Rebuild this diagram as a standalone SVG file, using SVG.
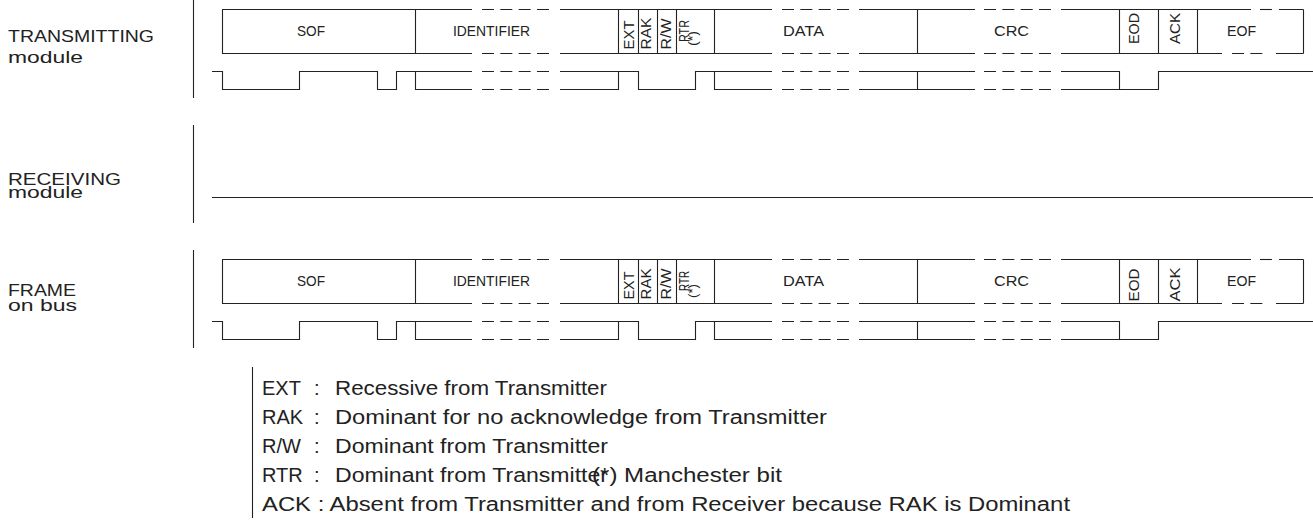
<svg xmlns="http://www.w3.org/2000/svg" width="1313" height="523" viewBox="0 0 1313 523">
<style>
.ln{stroke:#222;stroke-width:1.1;fill:none}
.ds{stroke:#222;stroke-width:1.1;fill:none;stroke-dasharray:12 6.33}
.t{font-family:"Liberation Sans",Arial,sans-serif;fill:#222}
.side{font-size:17px}
.sub{font-size:16px}
.cell{font-size:15px}
.rot{font-size:15px}
.rs{font-size:14px}
.rx{font-size:13px}
.leg{font-size:20px}
</style>
<defs>
<g id="frame">
<path class="ln" d="M222,9.5H472M560,9.5H772M859,9.5H975M1061,9.5H1251M1279,9.5H1303.5"/>
<path class="ds" d="M482,9.5H549M782,9.5H850M984,9.5H1053"/>
<path class="ds" d="M1260,9.5H1272"/>
<path class="ln" d="M222,53.5H472M560,53.5H772M859,53.5H975M1061,53.5H1222M1276,53.5H1303.5"/>
<path class="ds" d="M482,53.5H549M782,53.5H850M984,53.5H1053M1232,53.5H1267"/>
<path class="ln" d="M222.5,9.5V53.5M415.5,9.5V53.5M618.5,9.5V53.5M638.5,9.5V53.5M657.5,9.5V53.5M676.5,9.5V53.5M714.5,9.5V53.5M917.5,9.5V53.5M1119.5,9.5V53.5M1158.5,9.5V53.5M1197.5,9.5V53.5M1303.5,9.5V53.5"/>
<path class="ln" d="M212,71.5H222.5V89.5H299.5V71.5H377.5V89.5H396.5V71.5H472M415.5,71.5V89.5H472"/>
<path class="ds" d="M482,71.5H549M482,89.5H549M782,71.5H850M782,89.5H850M984,71.5H1053M984,89.5H1053"/>
<path class="ln" d="M560,71.5H638.5V89.5H695.5V71.5H772M560,89.5H618.5V71.5M714.5,71.5V89.5H772"/>
<path class="ln" d="M859,71.5H975M859,89.5H975M917.5,71.5V89.5"/>
<path class="ln" d="M1061,71.5H1119.5V89.5M1061,89.5H1158.5V71.5H1313"/>
</g>
</defs>

<g id="separators">
<path class="ln" d="M193.5,0V98M193.5,125V223M193.5,250V348"/>
</g>

<g id="transmitting-label">
<text class="t side" x="8" y="42" textLength="146" lengthAdjust="spacingAndGlyphs">TRANSMITTING</text>
<text class="t side" x="8" y="63" textLength="75" lengthAdjust="spacingAndGlyphs">module</text>
</g>
<g id="receiving-label">
<text class="t side" x="8" y="184.5" textLength="113" lengthAdjust="spacingAndGlyphs">RECEIVING</text>
<text class="t sub" x="8" y="198" textLength="75" lengthAdjust="spacingAndGlyphs">module</text>
</g>
<g id="frame-label">
<text class="t side" x="8" y="296" textLength="68" lengthAdjust="spacingAndGlyphs">FRAME</text>
<text class="t sub" x="8" y="310.5" textLength="69" lengthAdjust="spacingAndGlyphs">on bus</text>
</g>

<g id="transmitting-frame">
<use href="#frame"/>
<text class="t cell" x="297" y="35.5" textLength="28" lengthAdjust="spacingAndGlyphs">SOF</text>
<text class="t cell" x="453" y="35.5" textLength="77" lengthAdjust="spacingAndGlyphs">IDENTIFIER</text>
<text class="t cell" x="783" y="35.5" textLength="41" lengthAdjust="spacingAndGlyphs">DATA</text>
<text class="t cell" x="994" y="35.5" textLength="35" lengthAdjust="spacingAndGlyphs">CRC</text>
<text class="t cell" x="1227" y="35.5" textLength="29" lengthAdjust="spacingAndGlyphs">EOF</text>
<text class="t rot" transform="translate(633.5,49.5) rotate(-90)" textLength="29" lengthAdjust="spacingAndGlyphs">EXT</text>
<text class="t rot" transform="translate(651,49.5) rotate(-90)" textLength="32" lengthAdjust="spacingAndGlyphs">RAK</text>
<text class="t rot" transform="translate(670.5,49.5) rotate(-90)" textLength="31" lengthAdjust="spacingAndGlyphs">R/W</text>
<text class="t rs" transform="translate(689,42) rotate(-90)" textLength="22" lengthAdjust="spacingAndGlyphs">RTR</text>
<text class="t rx" transform="translate(697,46) rotate(-90)" textLength="15" lengthAdjust="spacingAndGlyphs">(*)</text>
<text class="t rot" transform="translate(1138.5,44) rotate(-90)" textLength="31" lengthAdjust="spacingAndGlyphs">EOD</text>
<text class="t rot" transform="translate(1180,44) rotate(-90)" textLength="31" lengthAdjust="spacingAndGlyphs">ACK</text>
</g>

<g id="receiving-line">
<path class="ln" d="M212,197.5H1313"/>
</g>

<g id="bus-frame">
<use href="#frame" transform="translate(0,250)"/>
<text class="t cell" x="297" y="285.5" textLength="28" lengthAdjust="spacingAndGlyphs">SOF</text>
<text class="t cell" x="453" y="285.5" textLength="77" lengthAdjust="spacingAndGlyphs">IDENTIFIER</text>
<text class="t cell" x="783" y="285.5" textLength="41" lengthAdjust="spacingAndGlyphs">DATA</text>
<text class="t cell" x="994" y="285.5" textLength="35" lengthAdjust="spacingAndGlyphs">CRC</text>
<text class="t cell" x="1227" y="285.5" textLength="29" lengthAdjust="spacingAndGlyphs">EOF</text>
<text class="t rot" transform="translate(633.5,299.5) rotate(-90)" textLength="28" lengthAdjust="spacingAndGlyphs">EXT</text>
<text class="t rot" transform="translate(651,299.5) rotate(-90)" textLength="31" lengthAdjust="spacingAndGlyphs">RAK</text>
<text class="t rot" transform="translate(670.5,299.5) rotate(-90)" textLength="31" lengthAdjust="spacingAndGlyphs">R/W</text>
<text class="t rs" transform="translate(689,291) rotate(-90)" textLength="20" lengthAdjust="spacingAndGlyphs">RTR</text>
<text class="t rx" transform="translate(697,298) rotate(-90)" textLength="14" lengthAdjust="spacingAndGlyphs">(*)</text>
<text class="t rot" transform="translate(1139,301.5) rotate(-90)" textLength="33" lengthAdjust="spacingAndGlyphs">EOD</text>
<text class="t rot" transform="translate(1180,301.5) rotate(-90)" textLength="34" lengthAdjust="spacingAndGlyphs">ACK</text>
</g>

<g id="legend">
<path class="ln" d="M252.5,367V518"/>
<text class="t leg" x="262" y="395">EXT</text>
<text class="t leg" x="314" y="395">:</text>
<text class="t leg" x="335" y="395" textLength="272" lengthAdjust="spacingAndGlyphs">Recessive from Transmitter</text>
<text class="t leg" x="262" y="424">RAK</text>
<text class="t leg" x="314" y="424">:</text>
<text class="t leg" x="335" y="424" textLength="492" lengthAdjust="spacingAndGlyphs">Dominant for no acknowledge from Transmitter</text>
<text class="t leg" x="262" y="453">R/W</text>
<text class="t leg" x="314" y="453">:</text>
<text class="t leg" x="335" y="453" textLength="273" lengthAdjust="spacingAndGlyphs">Dominant from Transmitter</text>
<text class="t leg" x="262" y="482">RTR</text>
<text class="t leg" x="314" y="482">:</text>
<text class="t leg" x="335" y="482" textLength="273" lengthAdjust="spacingAndGlyphs">Dominant from Transmitter</text>
<text class="t leg" x="592" y="482" textLength="190" lengthAdjust="spacingAndGlyphs">(*) Manchester bit</text>
<text class="t leg" x="262" y="511" textLength="808" lengthAdjust="spacingAndGlyphs">ACK : Absent from Transmitter and from Receiver because RAK is Dominant</text>
</g>
</svg>
